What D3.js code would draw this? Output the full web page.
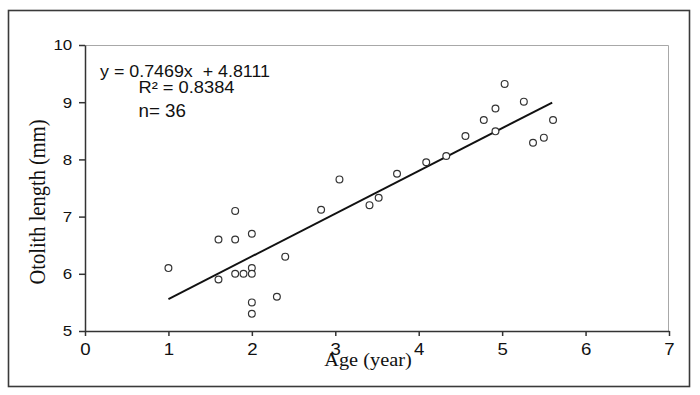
<!DOCTYPE html>
<html>
<head>
<meta charset="utf-8">
<script src="https://cdn.jsdelivr.net/npm/d3@7"></script>
<style>
  body { margin: 0; background: #fff; }
  svg { display: block; }
</style>
</head>
<body>
<div id="chart"></div>
<script>
// Data (visible points; some of the 36 overlap)
const ages = [1.0, 1.8, 1.6, 1.8, 2.0, 2.4, 2.0, 1.8, 1.9, 2.0, 1.6, 2.3, 2.0, 2.0,
  2.83, 3.05, 3.41, 3.52, 3.74, 4.09,
  4.33, 4.56, 4.78, 4.92, 4.92, 5.03, 5.26, 5.61, 5.50, 5.37];
const lengths = [6.1, 7.1, 6.6, 6.6, 6.7, 6.3, 6.1, 6.0, 6.0, 6.0, 5.9, 5.6, 5.5, 5.3,
  7.12, 7.65, 7.2, 7.33, 7.75, 7.95,
  8.06, 8.41, 8.69, 8.89, 8.49, 9.32, 9.01, 8.69, 8.38, 8.29];
const slope = 0.7469;
const intercept = 4.8111;
const fitRange = [1, 5.6];
const xTicks = [0, 1, 2, 3, 4, 5, 6, 7];
const yTicks = [5, 6, 7, 8, 9, 10];
const annotations = ["y = 0.7469x  + 4.8111", "R\u00b2 = 0.8384", "n= 36"];

const drawScatter = () => {

  /*******************************/
  /*    Declare the constants    */
  /*******************************/
  const margin = {top: 45, right: 31, bottom: 64, left: 85};
  const width = 700;
  const height = 395;
  const innerWidth = width - margin.left - margin.right;
  const innerHeight = height - margin.top - margin.bottom;
  const stretch = 1.13; // the picture is a bit wider than tall
  const sans = "'Liberation Sans', Arial, sans-serif";
  const serif = "'Liberation Serif', 'Times New Roman', serif";
  const axisColor = "#333";

  /*******************************/
  /*    Append the containers    */
  /*******************************/
  const svg = d3.select("#chart")
    .append("svg")
      .attr("width", width)
      .attr("height", height)
      .attr("viewBox", `0, 0, ${width}, ${height}`);

  // Outer frame
  svg
    .append("rect")
      .attr("x", 8.5)
      .attr("y", 10.5)
      .attr("width", 681)
      .attr("height", 376)
      .attr("fill", "none")
      .attr("stroke", "#3a3a3a")
      .attr("stroke-width", 1.6);

  const innerChart = svg
    .append("g")
      .attr("transform", `translate(${margin.left}, ${margin.top})`);

  /****************************/
  /*    Declare the scales    */
  /****************************/
  const xScale = d3.scaleLinear()
    .domain([0, 7])
    .range([0, innerWidth]);
  const yScale = d3.scaleLinear()
    .domain([5, 10])
    .range([innerHeight, 0]);

  // Light border on top and right of the plot area
  innerChart
    .append("path")
      .attr("d", `M0,0.5H${innerWidth - 0.5}V${innerHeight}`)
      .attr("fill", "none")
      .attr("stroke", "#a8a8a8")
      .attr("stroke-width", 1);

  /**************************/
  /*      Add the axes      */
  /**************************/
  const bottomAxis = d3.axisBottom(xScale)
    .tickValues(xTicks)
    .tickFormat(d3.format("d"))
    .tickSize(5)
    .tickSizeOuter(0);
  const bottomG = innerChart
    .append("g")
      .attr("transform", `translate(0, ${innerHeight})`)
      .call(bottomAxis);
  bottomG.selectAll("text")
    .attr("y", 12.5)
    .attr("font-size", 16.5);

  const leftAxis = d3.axisLeft(yScale)
    .tickValues(yTicks)
    .tickFormat(d3.format("d"))
    .tickSize(6)
    .tickSizeOuter(0);
  const leftG = innerChart
    .append("g")
      .call(leftAxis);
  leftG.selectAll("text")
    .attr("x", -11.3)
    .attr("font-size", 15);

  innerChart.selectAll(".domain, .tick line")
    .attr("stroke", axisColor)
    .attr("stroke-width", 1.5);
  innerChart.selectAll(".tick text")
    .attr("font-family", sans)
    .attr("fill", "#111")
    .attr("transform", `scale(${stretch}, 1)`);

  svg
    .append("text")
      .text("Age (year)")
      .attr("text-anchor", "middle")
      .attr("font-family", serif)
      .attr("font-size", 18)
      .attr("fill", "#111")
      .attr("transform", `translate(368, 366) scale(${stretch}, 1)`);

  svg
    .append("text")
      .text("Otolith length (mm)")
      .attr("text-anchor", "middle")
      .attr("font-family", serif)
      .attr("font-size", 20.5)
      .attr("fill", "#111")
      .attr("transform", `translate(45, 202) rotate(-90) scale(1, ${stretch})`);

  /******************************/
  /*    Add the trend line      */
  /******************************/
  innerChart
    .append("line")
      .attr("x1", xScale(fitRange[0]))
      .attr("y1", yScale(slope * fitRange[0] + intercept))
      .attr("x2", xScale(fitRange[1]))
      .attr("y2", yScale(slope * fitRange[1] + intercept))
      .attr("stroke", "#111")
      .attr("stroke-width", 2);

  /******************************/
  /*      Add the points        */
  /******************************/
  innerChart
    .selectAll(".point")
    .data(ages.map((a, i) => ({age: a, length: lengths[i]})))
    .join("circle")
      .attr("class", "point")
      .attr("cx", d => xScale(d.age))
      .attr("cy", d => yScale(d.length))
      .attr("r", 3.4)
      .attr("fill", "#fff")
      .attr("stroke", "#333")
      .attr("stroke-width", 1.2);

  /******************************/
  /*    Add the annotations     */
  /******************************/
  const notePos = [
    {x: 100, y: 76.5, size: 16, len: 170},
    {x: 138.5, y: 92.5, size: 16, len: 96},
    {x: 138.5, y: 116.5, size: 18.5, len: 47.5}
  ];
  svg
    .selectAll(".note")
    .data(annotations)
    .join("text")
      .attr("class", "note")
      .text(d => d)
      .attr("x", (d, i) => notePos[i].x)
      .attr("y", (d, i) => notePos[i].y)
      .attr("font-size", (d, i) => notePos[i].size)
      .attr("textLength", (d, i) => notePos[i].len)
      .attr("lengthAdjust", "spacingAndGlyphs")
      .attr("font-family", sans)
      .attr("fill", "#111")
      .style("white-space", "pre");

};

drawScatter();
</script>
</body>
</html>
